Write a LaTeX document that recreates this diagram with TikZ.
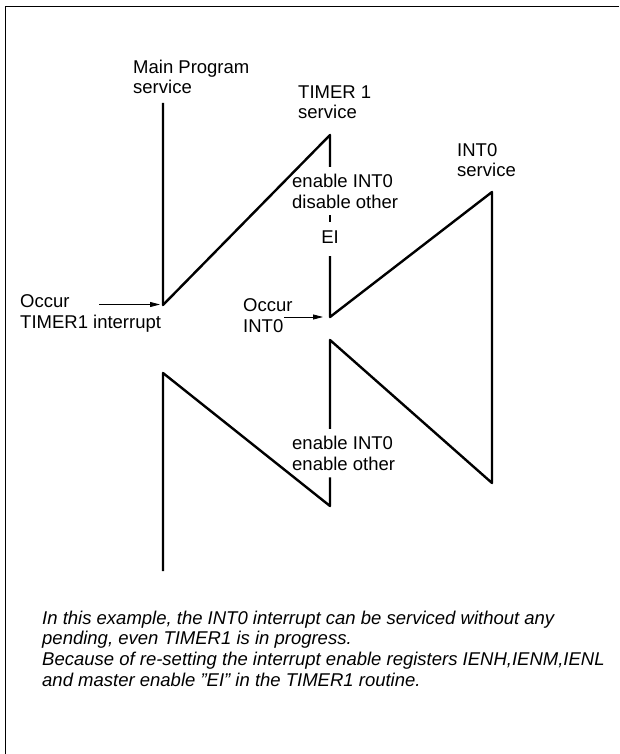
\documentclass[tikz,border=0pt]{standalone}
\usepackage{fontspec}
\setmainfont{Liberation Sans}
\usetikzlibrary{arrows.meta}

\begin{document}
\begin{tikzpicture}[
    x=1pt, y=-1pt,
    lbl/.style={font=\fontsize{18.5}{20.5}\selectfont, align=left, inner sep=0pt, anchor=base west},
    gaplbl/.style={lbl, inner ysep=7pt},
    trace/.style={line width=2.4pt, line join=round},
    pointer/.style={-{Triangle[length=10pt,width=5pt]}, line width=0.8pt}
]
    \useasboundingbox (0,0) rectangle (619,754);
    \draw[line width=1pt] (619,7) -- (5.5,7) -- (5.5,754);

    % corners of the trace
    \coordinate (m0) at (163,103);
    \coordinate (m1) at (163,305);
    \coordinate (t0) at (330,135);
    \coordinate (t1) at (330,317);
    \coordinate (i0) at (492,192);
    \coordinate (i1) at (492,483);
    \coordinate (t2) at (330,340);
    \coordinate (t3) at (330,506);
    \coordinate (m2) at (163,373);
    \coordinate (m3) at (163,571);

    % labels (anchored on the baseline of their last line)
    \node[lbl] (mainlbl) at (133,94) {Main Program\\service};
    \node[lbl] (tmrlbl) at (298,119) {TIMER 1\\service};
    \node[lbl] (intlbl) at (457,177) {INT0\\service};
    \node[gaplbl] (uplbl) at (292,208) {enable INT0\\disable other};
    \node[lbl, anchor=base, inner ysep=8pt, text depth=5pt] (eilbl) at (330,243) {EI};
    \node[gaplbl] (lowlbl) at (292,470) {enable INT0\\enable other};
    \node[lbl] (occtmr) at (20,328) {Occur\\TIMER1 interrupt};
    \node[lbl] (occint) at (243,332) {Occur\\INT0};
    \node[lbl, font=\fontsize{18.5}{20.6}\selectfont\itshape] (notelbl) at (42,686)
        {In this example, the INT0 interrupt can be serviced without any\\
         pending, even TIMER1 is in progress.\\
         Because of re-setting the interrupt enable registers IENH,IENM,IENL\\
         and master enable \symbol{34}EI\symbol{34} in the TIMER1 routine.};

    % program flow
    \draw[trace] (m0) -- (m1) -- (t0) -- (t0 |- uplbl.north);
    \draw[trace] (t0 |- uplbl.south) -- (t0 |- eilbl.north);
    \draw[trace] (eilbl.south) -- (t1) -- (i0) -- (i1) -- (t2) -- (t2 |- lowlbl.north);
    \draw[trace] (t2 |- lowlbl.south) -- (t3) -- (m2) -- (m3);

    % interrupt requests
    \coordinate (tmrsrc) at (99,304.5);
    \coordinate (intsrc) at (284,317);
    \draw[pointer, shorten >=3pt] (tmrsrc) -- (tmrsrc -| m1);
    \draw[pointer, shorten >=7pt] (intsrc) -- (t1);
\end{tikzpicture}
\end{document}
